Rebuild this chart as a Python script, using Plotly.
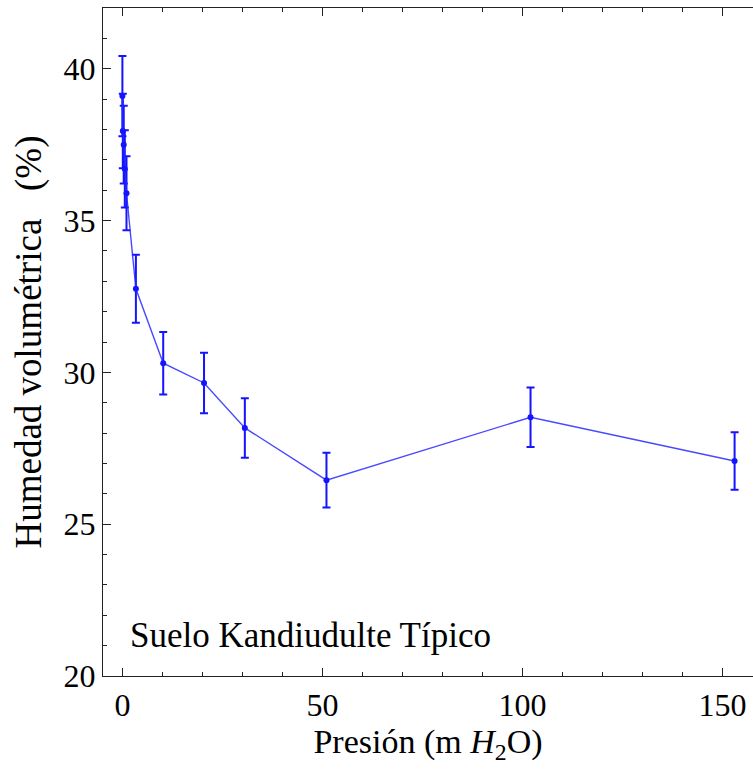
import plotly.graph_objects as go

# Data
presion = [0.0, 0.1, 0.33, 0.6, 1.02, 3.37, 10.2, 20.4, 30.6, 51.0, 102.0, 153.0]
humedad = [39.1, 37.95, 37.5, 36.7, 35.9, 32.75, 30.3, 29.65, 28.17, 26.45, 28.52, 27.08]
error = [1.32, 1.23, 1.28, 1.27, 1.22, 1.12, 1.03, 1.0, 0.98, 0.9, 0.98, 0.95]

x_ticks = [0, 50, 100, 150]
y_ticks = [20, 25, 30, 35, 40]

FONT = "'Times New Roman', 'Liberation Serif', serif"
blue = "rgb(20,20,255)"

fig = go.Figure()
fig.add_trace(go.Scatter(
    x=presion, y=humedad, mode="lines+markers",
    line=dict(color="rgba(40,40,255,0.85)", width=1.4),
    marker=dict(color=blue, size=6),
    error_y=dict(type="data", array=error, visible=True,
                 color=blue, thickness=2, width=4),
    showlegend=False,
))

fig.add_annotation(
    x=1.3, y=21.35, xref="x", yref="y", xanchor="left", yanchor="middle",
    text="Suelo Kandiudulte Típico", showarrow=False,
    font=dict(family=FONT, size=35, color="black"),
)

axis_common = dict(
    showline=True, linecolor="#222", linewidth=1.3,
    ticks="inside", ticklen=8, tickwidth=1.3, tickcolor="#222",
    showgrid=False, zeroline=False,
    tickfont=dict(family=FONT, size=32, color="black"),
)

fig.update_layout(
    width=753, height=773,
    margin=dict(l=103, r=0, t=8, b=97),
    plot_bgcolor="white", paper_bgcolor="white",
    font=dict(family=FONT),
    xaxis=dict(
        range=[-4.85, 157.6], tickvals=x_ticks, mirror="ticks",
        minor=dict(ticks="inside", ticklen=4, dtick=10, tick0=0, tickcolor="#222", tickwidth=1.2),
        title=dict(text="Presión (m <i>H</i><sub>2</sub>O)", font=dict(family=FONT, size=34, color="black"), standoff=6),
        **axis_common,
    ),
    yaxis=dict(
        range=[20, 42], tickvals=y_ticks, mirror=False,
        minor=dict(ticks="inside", ticklen=4, dtick=1, tick0=20, tickcolor="#222", tickwidth=1.2),
        title=dict(text="Humedad volumétrica \u00a0 (%)", font=dict(family=FONT, size=37, color="black"), standoff=10),
        **axis_common,
    ),
)

fig.write_html("out.html")
